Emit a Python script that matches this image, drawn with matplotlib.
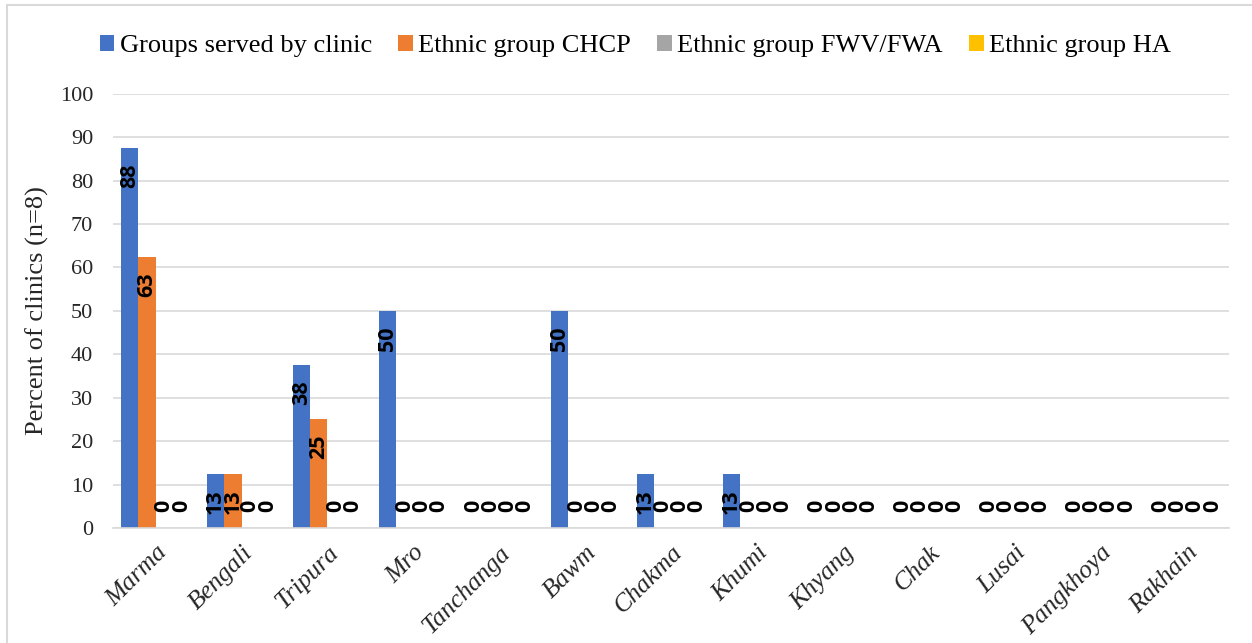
import numpy as np
import matplotlib
matplotlib.use('Agg')
import matplotlib.pyplot as plt
from matplotlib.patches import Rectangle

# percent of clinics (n=8) per ethnic group
groups = ['Marma', 'Bengali', 'Tripura', 'Mro', 'Tanchanga', 'Bawm', 'Chakma',
          'Khumi', 'Khyang', 'Chak', 'Lusai', 'Pangkhoya', 'Rakhain']
served = [87.5, 12.5, 37.5, 50, 0, 50, 12.5, 12.5, 0, 0, 0, 0, 0]
chcp = [62.5, 12.5, 25, 0, 0, 0, 0, 0, 0, 0, 0, 0, 0]
fwv = [0] * 13
ha = [0] * 13

series = [
    ('Groups served by clinic', served, '#4472C4'),
    ('Ethnic group CHCP', chcp, '#ED7D31'),
    ('Ethnic group FWV/FWA', fwv, '#A5A5A5'),
    ('Ethnic group HA', ha, '#FFC000'),
]

def fmt(v):
    # round half up like the spreadsheet "0" number format
    return str(int(np.floor(v + 0.5)))

plt.rcParams['font.family'] = 'Liberation Serif'

fig = plt.figure(figsize=(12.52, 6.43), dpi=100)
ax = fig.add_axes([0.090, 0.179, 0.892, 0.675])

x = np.arange(len(groups))
w = 0.2
lbl = dict(rotation=90, ha='center', fontsize=15.5, fontweight='bold',
           family='Open Sans', zorder=3, textcoords='offset points')
for k, (name, vals, col) in enumerate(series):
    pos = x + (k - 1.5) * w
    ax.bar(pos, vals, w, color=col, label=name, zorder=2)
    for p, v in zip(pos, vals):
        if v > 0:
            ax.annotate(fmt(v), (p, v), xytext=(0, -11), va='top', **lbl)
        else:
            ax.annotate(fmt(v), (p, 0), xytext=(0, 16), va='center', **lbl)

ax.set_xlim(-0.5, len(groups) - 0.5)
ax.set_ylim(0, 100)
ax.set_yticks(range(0, 101, 10))
ax.yaxis.grid(True, color='#d9d9d9', linewidth=1.2, zorder=0)
ax.set_axisbelow(True)
for s in ['top', 'right', 'left']:
    ax.spines[s].set_visible(False)
ax.spines['bottom'].set_color('#d9d9d9')
ax.spines['bottom'].set_linewidth(1.2)
ax.tick_params(axis='both', length=0, labelsize=16, colors='#262626')
ax.tick_params(axis='y', pad=14)
ax.set_xticks(x)
ax.set_xticklabels(groups, rotation=45, ha='right', rotation_mode='anchor',
                   fontsize=18.5, style='italic')
ax.tick_params(axis='x', pad=10)
ax.set_ylabel('Percent of clinics (n=8)', fontsize=19, color='#262626', labelpad=8)

ax.legend(loc='lower center', bbox_to_anchor=(0.468, 1.06), ncol=4, frameon=False,
          fontsize=19, handlelength=0.55, handleheight=0.6, handletextpad=0.2,
          columnspacing=1.0, borderaxespad=0)

# chart area border
fig.patches.append(Rectangle((7 / 1252, -0.01), 1.0, 1 - 5 / 643 + 0.01,
                             transform=fig.transFigure, fill=False,
                             edgecolor='#d9d9d9', linewidth=1.5))

fig.savefig('out.png', dpi=100)
